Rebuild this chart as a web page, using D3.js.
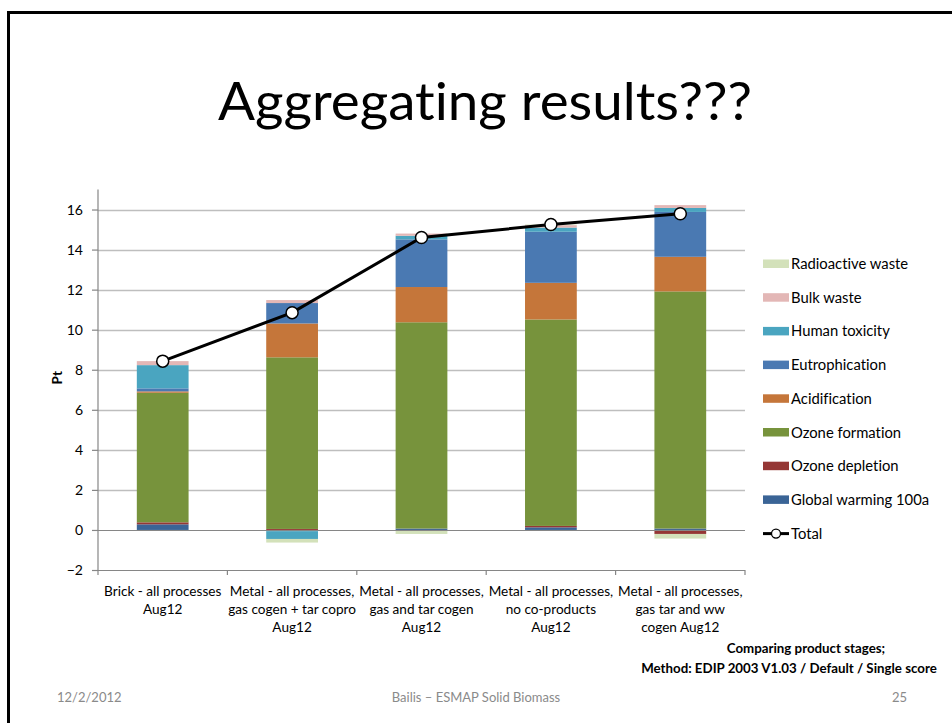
<!DOCTYPE html>
<html>
<head>
<meta charset="utf-8">
<script src="https://cdn.jsdelivr.net/npm/d3@7"></script>
<style>
  html, body { margin: 0; padding: 0; background: #fff; }
  svg { display: block; font-family: Lato, "Open Sans", sans-serif;
        font-variant-ligatures: none; font-feature-settings: "liga" 0, "clig" 0; }
</style>
</head>
<body>
<svg id="slide" width="952" height="723"></svg>
<script>
// Product stages compared (one stacked bar each)
const categories = [
  ["Brick - all processes", "Aug12"],
  ["Metal - all processes,", "gas cogen + tar copro", "Aug12"],
  ["Metal - all processes,", "gas and tar cogen", "Aug12"],
  ["Metal - all processes,", "no co-products", "Aug12"],
  ["Metal - all processes,", "gas tar and ww", "cogen Aug12"]
];

// Impact categories, stacked bottom to top
const seriesNames = [
  "Global warming 100a", "Ozone depletion", "Ozone formation", "Acidification",
  "Eutrophication", "Human toxicity", "Bulk waste", "Radioactive waste"
];
const seriesColors = [
  "#3A6496", "#953735", "#77933C", "#C5763A",
  "#4A79B2", "#4AA5C0", "#E3B7B6", "#D3E1BA"
];

// Single-score values (Pt) per impact category, one entry per product stage
const globalWarming   = [0.28, -0.06, 0.07, 0.13, 0.07];
const ozoneDepletion  = [0.10,  0.05, -0.05, 0.07, -0.20];
const ozoneFormation  = [6.47,  8.57, 10.30, 10.31, 11.84];
const acidification   = [0.07,  1.69, 1.76, 1.83, 1.73];
const eutrophication  = [0.15,  1.02, 2.38, 2.55, 2.24];
const humanToxicity   = [1.16, -0.39, 0.18, 0.21, 0.20];
const bulkWaste       = [0.20,  0.15, 0.11, 0.12, 0.14];
const radioactiveWaste= [0.00, -0.18, -0.15, 0.03, -0.23];

const yTicks = [-2, 0, 2, 4, 6, 8, 10, 12, 14, 16];

const seriesValues = [globalWarming, ozoneDepletion, ozoneFormation, acidification,
  eutrophication, humanToxicity, bulkWaste, radioactiveWaste];

const rows = categories.map((c, i) => {
  const r = { idx: i };
  seriesNames.forEach((s, k) => { r[s] = seriesValues[k][i]; });
  r.total = d3.sum(seriesValues, v => v[i]);
  return r;
});

const svg = d3.select("#slide");

// Slide frame
svg.append("rect")
  .attr("x", 8.5).attr("y", 12.5).attr("width", 960).attr("height", 740)
  .attr("fill", "none").attr("stroke", "#000").attr("stroke-width", 3);

// Title
svg.append("text")
  .attr("x", 485).attr("y", 120)
  .attr("text-anchor", "middle")
  .attr("font-size", 52)
  .attr("textLength", 534).attr("lengthAdjust", "spacingAndGlyphs")
  .attr("fill", "#000")
  .text("Aggregating results???");

// Plot geometry
const plot = { left: 98, right: 745, top: 189.5, bottom: 570 };

const x = d3.scaleBand()
  .domain(d3.range(categories.length))
  .range([plot.left, plot.right])
  .paddingInner(0.6).paddingOuter(0.3);

const y = d3.scaleLinear().domain([-2, 17]).range([plot.bottom, plot.top]);

// Gridlines
svg.append("g")
  .selectAll("line").data(yTicks.filter(t => t !== 0 && t !== -2)).join("line")
  .attr("x1", plot.left).attr("x2", plot.right)
  .attr("y1", d => Math.round(y(d)) + 0.5).attr("y2", d => Math.round(y(d)) + 0.5)
  .attr("stroke", "#BEBEBE").attr("stroke-width", 1.5);

// Stacked bars (positives up, negatives down)
const stack = d3.stack().keys(seriesNames).offset(d3.stackOffsetDiverging);
const layers = stack(rows);

const barGroup = svg.append("g");
layers.forEach((layer, k) => {
  barGroup.append("g").attr("fill", seriesColors[k])
    .selectAll("rect").data(layer).join("rect")
    .attr("x", (d, i) => x(i))
    .attr("width", x.bandwidth())
    .attr("y", d => y(Math.max(d[0], d[1])))
    .attr("height", d => Math.abs(y(d[0]) - y(d[1])));
});

// Zero line and category axis
const xAxis = svg.append("g");
xAxis.append("line")
  .attr("x1", plot.left).attr("x2", plot.right)
  .attr("y1", Math.round(y(0)) + 0.5).attr("y2", Math.round(y(0)) + 0.5)
  .attr("stroke", "#868686").attr("stroke-width", 1.2);
xAxis.append("line")
  .attr("x1", plot.left).attr("x2", plot.right)
  .attr("y1", plot.bottom + 0.5).attr("y2", plot.bottom + 0.5)
  .attr("stroke", "#868686").attr("stroke-width", 1.2);
xAxis.selectAll("line.tick").data(d3.range(categories.length + 1)).join("line")
  .attr("class", "tick")
  .attr("x1", i => plot.left + i * (plot.right - plot.left) / categories.length)
  .attr("x2", i => plot.left + i * (plot.right - plot.left) / categories.length)
  .attr("y1", plot.bottom).attr("y2", plot.bottom + 5)
  .attr("stroke", "#868686").attr("stroke-width", 1.2);

const catLabels = svg.append("g")
  .attr("font-size", 13.6).attr("fill", "#000").attr("text-anchor", "middle");
categories.forEach((lines, i) => {
  const t = catLabels.append("text")
    .attr("x", x(i) + x.bandwidth() / 2);
  lines.forEach((ln, j) => {
    t.append("tspan").attr("x", x(i) + x.bandwidth() / 2)
      .attr("y", 596 + j * 18).text(ln);
  });
});

// Value axis
const yAxis = svg.append("g")
  .attr("transform", `translate(${plot.left},0)`)
  .call(d3.axisLeft(y).tickValues(yTicks).tickSize(6).tickPadding(9).tickFormat(d3.format("d")));
yAxis.select(".domain").attr("stroke", "#868686").attr("stroke-width", 1.2)
  .attr("d", `M0,${plot.top}V${plot.bottom}`);
yAxis.selectAll(".tick line").attr("stroke", "#868686").attr("stroke-width", 1.2);
yAxis.selectAll(".tick text").attr("font-size", 14).attr("fill", "#000")
  .attr("font-family", "Lato, sans-serif");

svg.append("text")
  .attr("transform", `translate(62,${y(7.6)}) rotate(-90)`)
  .attr("text-anchor", "middle").attr("font-size", 13.5).attr("font-weight", "bold")
  .text("Pt");

// Total line with markers
const line = d3.line()
  .x(d => x(d.idx) + x.bandwidth() / 2)
  .y(d => y(d.total));
svg.append("path").datum(rows)
  .attr("d", line).attr("fill", "none")
  .attr("stroke", "#000").attr("stroke-width", 3);
svg.append("g").selectAll("circle").data(rows).join("circle")
  .attr("cx", d => x(d.idx) + x.bandwidth() / 2)
  .attr("cy", d => y(d.total))
  .attr("r", 6).attr("fill", "#fff").attr("stroke", "#000").attr("stroke-width", 1.5);

// Legend (top entry = last series)
const legend = svg.append("g").attr("font-size", 14.8);
const legendItems = seriesNames.map((n, k) => ({ name: n, color: seriesColors[k] })).reverse();
legendItems.forEach((it, j) => {
  const cy = 264 + j * 33.7;
  legend.append("rect").attr("x", 763).attr("y", cy - 4.5).attr("width", 26).attr("height", 8.5)
    .attr("fill", it.color);
  legend.append("text").attr("x", 791).attr("y", cy + 5).text(it.name);
});
{
  const cy = 264 + 8 * 33.7;
  legend.append("line").attr("x1", 763).attr("x2", 789).attr("y1", cy).attr("y2", cy)
    .attr("stroke", "#000").attr("stroke-width", 3);
  legend.append("circle").attr("cx", 776).attr("cy", cy).attr("r", 4.5)
    .attr("fill", "#fff").attr("stroke", "#000").attr("stroke-width", 1.3);
  legend.append("text").attr("x", 791).attr("y", cy + 5).text("Total");
}

// Method note
const note = svg.append("g").attr("font-size", 13.3).attr("font-weight", "bold")
  .attr("text-anchor", "middle");
note.append("text").attr("x", 806).attr("y", 653).text("Comparing product stages;");
note.append("text").attr("x", 789).attr("y", 673).text("Method: EDIP 2003 V1.03 / Default / Single score");

// Footer
const footer = svg.append("g").attr("font-size", 13).attr("fill", "#8A8A8A");
footer.append("text").attr("x", 57).attr("y", 702).text("12/2/2012");
footer.append("text").attr("x", 476).attr("y", 702).attr("text-anchor", "middle")
  .text("Bailis – ESMAP Solid Biomass");
footer.append("text").attr("x", 907).attr("y", 702).attr("text-anchor", "end").text("25");
</script>
</body>
</html>
